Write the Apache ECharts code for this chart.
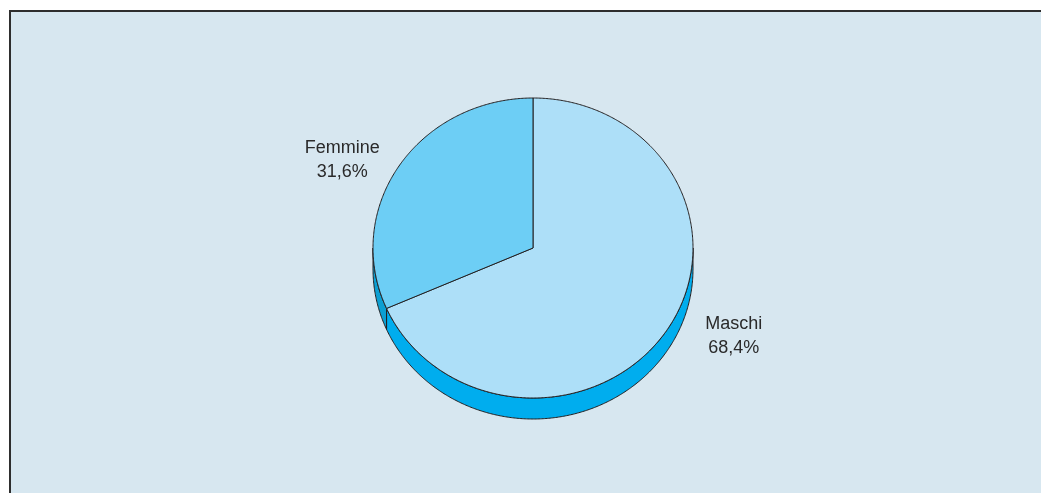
<!DOCTYPE html>
<html>
<head>
<meta charset="utf-8">
<script src="https://cdn.jsdelivr.net/npm/echarts@6/dist/echarts.min.js"></script>
<style>
html,body{margin:0;padding:0;background:#ffffff;}
#chart{width:1041px;height:493px;}
</style>
</head>
<body>
<div id="chart"></div>
<script>
// Data
const categories = ['Maschi', 'Femmine'];
const values = [68.4, 31.6];

// Styles
const topColors = ['#addff8', '#6dcef5'];
const sideColors = ['#00adee', '#0c9fd2'];
const strokeColor = '#231f20';

const chart = echarts.init(document.getElementById('chart'));

const total = values.reduce((a, b) => a + b, 0);
const starts = [];
let acc = 0;
values.forEach(v => { starts.push(acc); acc += v; });

function renderItem(params, api) {
  const cx = 533, cy = 248, rx = 160, ry = 150, depth = 21;
  const i = params.dataIndex;
  const v = api.value(0);
  const deg = Math.PI / 180;
  // screen angles (y down): start at top (-90deg), go clockwise
  const a0 = -90 + starts[i] / total * 360;
  const a1 = a0 + v / total * 360;
  const pt = (t, dy) => [cx + rx * Math.cos(t * deg), cy + ry * Math.sin(t * deg) + (dy || 0)];
  const arc = (s, e, dy) => {
    const pts = [];
    const n = Math.max(2, Math.ceil(Math.abs(e - s) / 0.5));
    for (let k = 0; k <= n; k++) pts.push(pt(s + (e - s) * k / n, dy));
    return pts;
  };
  const children = [];
  // side wall: visible front half [0,180]
  const ranges = [];
  for (let off = -360; off <= 360; off += 360) {
    const s = Math.max(a0, off + 0), e = Math.min(a1, off + 180);
    if (e > s) ranges.push([s, e]);
  }
  ranges.forEach(r => {
    const topArc = arc(r[0], r[1], 0);
    const botArc = arc(r[0], r[1], depth).reverse();
    children.push({
      type: 'polygon',
      shape: { points: topArc.concat(botArc) },
      style: { fill: sideColors[i], stroke: strokeColor, lineWidth: 1 }
    });
  });
  // top face
  children.push({
    type: 'polygon',
    shape: { points: [[cx, cy]].concat(arc(a0, a1, 0)) },
    style: { fill: topColors[i], stroke: strokeColor, lineWidth: 1 }
  });
  // label
  const mid = (a0 + a1) / 2;
  const lx = cx + 5 + rx * 1.46 * Math.cos(mid * deg);
  const ly = cy + ry * 1.075 * Math.sin(mid * deg);
  children.push({
    type: 'text',
    x: lx, y: ly,
    style: {
      text: categories[i] + '\n' + v.toFixed(1).replace('.', ',') + '%',
      fill: '#2a2a2a',
      font: '18px "Liberation Sans", Arial, sans-serif',
      lineHeight: 24,
      align: 'center',
      verticalAlign: 'middle'
    }
  });
  return { type: 'group', children: children };
}

chart.setOption({
  animation: false,
  backgroundColor: '#ffffff',
  graphic: [
    { type: 'rect', z: -10, shape: { x: 10, y: 11, width: 1031, height: 482 }, style: { fill: '#d7e7f0' } },
    { type: 'line', z: -9, shape: { x1: 9, y1: 11, x2: 1041, y2: 11 }, style: { stroke: '#2e2e2e', lineWidth: 2 } },
    { type: 'line', z: -9, shape: { x1: 10, y1: 10, x2: 10, y2: 493 }, style: { stroke: '#2e2e2e', lineWidth: 2 } }
  ],
  series: [{
    type: 'custom',
    coordinateSystem: 'none',
    renderItem: renderItem,
    data: values.map((v, i) => ({ name: categories[i], value: [v] }))
  }]
});
</script>
</body>
</html>
